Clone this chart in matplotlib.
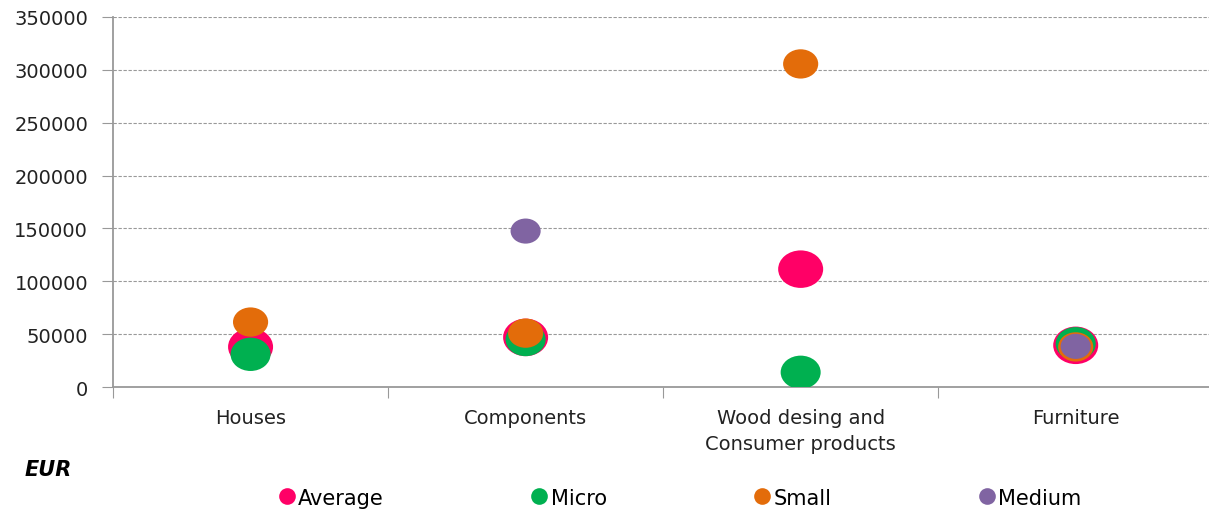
import matplotlib.pyplot as plt
import numpy as np
from matplotlib.path import Path
from matplotlib.transforms import Affine2D
from matplotlib.lines import Line2D

# ---- data (EUR) ----
categories = ['Houses', 'Components', 'Wood desing and\nConsumer products', 'Furniture']
series_names = ['Average', 'Micro', 'Small', 'Medium']
average = [38000, 47000, 111500, 39500]
micro = [31000, 45000, 14000, 41000]
small = [61500, 51000, 305500, 38000]
medium = [np.nan, 147500, np.nan, 38500]

colors = ['#FF0066', '#00B050', '#E36C0A', '#8064A2']
sizes = [1050, 830, 640, 470]

plt.rcParams['font.family'] = 'DejaVu Sans'

fig = plt.figure(figsize=(12.09, 5.10), dpi=100)
ax = fig.add_axes([0.0935, 0.239, 0.91, 0.726])

# slightly wide ellipse marker
ellipse = Path.unit_circle().transformed(Affine2D().scale(1.2, 1.0))

x = np.arange(1, len(categories) + 1)
for vals, col, s in zip([average, micro, small, medium], colors, sizes):
    ax.scatter(x, vals, s=s, marker=ellipse, color=col, edgecolors='none', zorder=3)

ax.set_xlim(0.5, 4.5)
ax.set_ylim(0, 350000)
ax.set_yticks(np.arange(0, 350001, 50000))
ax.tick_params(axis='y', labelsize=14, length=8, color='#999999', labelcolor='#222222', pad=10)

# category boundaries as ticks, names as minor labels
ax.set_xticks(np.arange(0.5, 4.6, 1.0))
ax.set_xticklabels([])
ax.set_xticks(x, minor=True)
labels = ax.set_xticklabels(categories, minor=True, fontsize=14, color='#222222')
for t in labels:
    t.set_linespacing(1.45)
ax.tick_params(axis='x', which='major', length=8, color='#999999', direction='out')
ax.tick_params(axis='x', which='minor', length=0, pad=15)

ax.grid(axis='y', linestyle=(0, (3, 1.5)), color='#999999', linewidth=0.8)
ax.set_axisbelow(True)
for side in ['top', 'right']:
    ax.spines[side].set_visible(False)
for side in ['left', 'bottom']:
    ax.spines[side].set_color('#999999')
    ax.spines[side].set_linewidth(1.3)

fig.text(0.02, 0.078, 'EUR', fontsize=15, fontweight='bold', fontstyle='italic',
         ha='left', va='center')

handles = [Line2D([], [], linestyle='none', marker='o', markersize=12,
                  markerfacecolor=c, markeredgecolor='none') for c in colors]
fig.legend(handles, series_names, loc='center', bbox_to_anchor=(0.562, 0.022),
           ncol=4, frameon=False, handletextpad=0.1,
           columnspacing=7.0, handlelength=0.9, prop={'size': 15})

fig.savefig('out.png', dpi=100)
